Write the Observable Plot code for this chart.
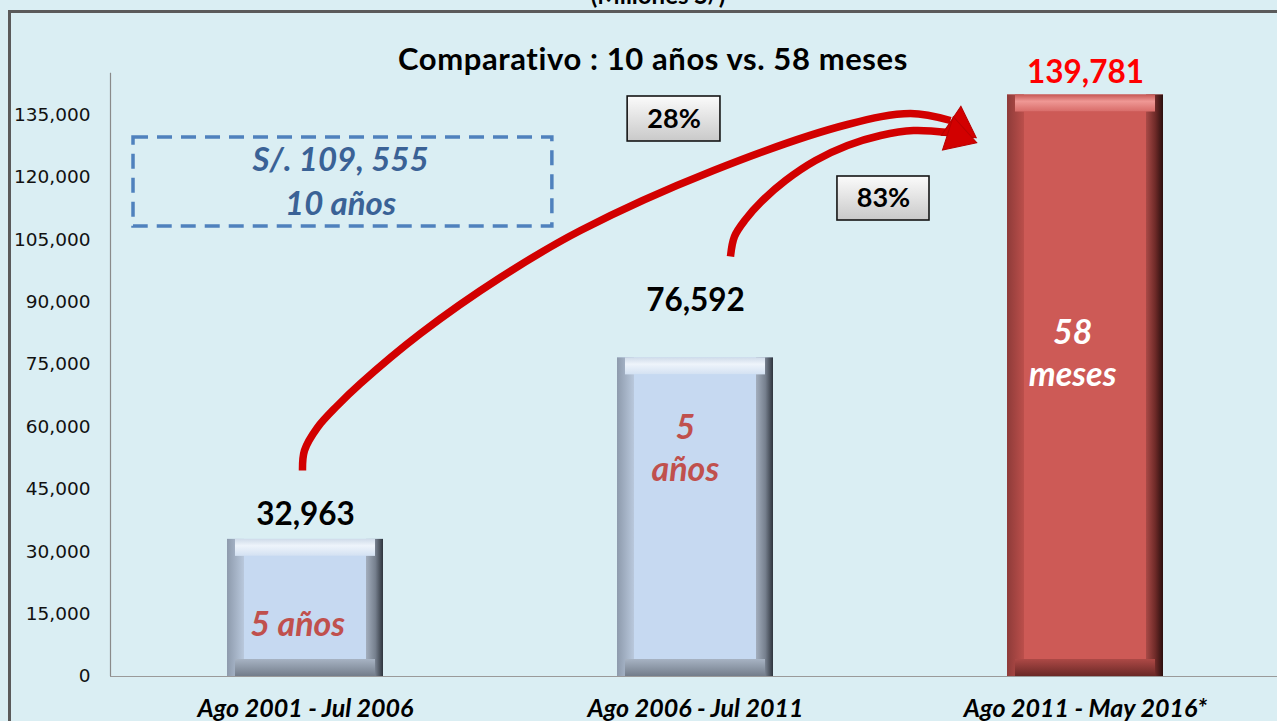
<!DOCTYPE html>
<html><head><meta charset="utf-8">
<script src="https://cdn.jsdelivr.net/npm/d3@7"></script>
<script src="https://cdn.jsdelivr.net/npm/@observablehq/plot@0.6"></script>
<style>
html,body{margin:0;padding:0;background:#daeef3;overflow:hidden;width:1277px;height:721px;}
#wrap{position:relative;width:1277px;height:721px;overflow:hidden;}
#frame{position:absolute;left:8px;top:10px;width:1400px;height:900px;border-left:3px solid #5a5a5a;border-top:3px solid #5a5a5a;}
#unit{position:absolute;left:0;width:1316px;top:-18px;text-align:center;font:bold 24px Lato, sans-serif;color:#000;line-height:26px;}
#title{position:absolute;left:0;width:1306px;top:40px;text-align:center;font:bold 31px Lato, sans-serif;letter-spacing:0.6px;color:#000;line-height:36px;}
#chart{position:absolute;left:0;top:0;}
#chart svg{background:transparent;overflow:visible;}
g[aria-label^="x-axis"] text{font-family:Lato, sans-serif;font-weight:bold;font-style:italic;font-size:25px;fill:#000;}
g[aria-label^="y-axis"] text{font-family:"DejaVu Sans", sans-serif;font-size:18.5px;fill:#111;}
</style>
</head><body>
<div id="wrap">
  <div id="frame"></div>
  <div id="unit">(Millones S/)</div>
  <div id="chart"></div>
  <div id="title">Comparativo : 10 años vs. 58 meses</div>
</div>
<script>
// ---- data ----
const categories = ["Ago 2001 - Jul 2006", "Ago 2006 - Jul 2011", "Ago 2011 - May 2016*"];
const values = [32963, 76592, 139781];
const valueLabels = ["32,963", "76,592", "139,781"];
const innerLabels = ["5 años", "5\naños", "58\nmeses"];
const yTicks = [0, 15000, 30000, 45000, 60000, 75000, 90000, 105000, 120000, 135000];
const totalLabel = ["S/. 109, 555", "10 años"];
const growthLabels = ["28%", "83%"];

// ---- annotation placement (data units: x = category index, y = millones) ----
const valueLabelY = [38900, 90400, 145200];
const innerLabelPos = [{x: -0.02, y: 12980}, {x: 0.974, y: 55300}, {x: 1.967, y: 78100}];
const totalBox = {x1: -0.441, x2: 0.633, y1: 108173, y2: 129567};
const totalTextPos = [{x: 0.09, y: 124038}, {x: 0.09, y: 113462}];
const growthBoxes = [
  {x1: 0.826, x2: 1.064, y1: 128606, y2: 139423},
  {x1: 1.364, x2: 1.600, y1: 109615, y2: 120192}
];
const arrowPath1 = [
  [-0.0077, 49519], [-0.0026, 54327], [0.0308, 59856], [0.0821, 65144], [0.141, 70433],
  [0.2949, 82452], [0.5, 95913], [0.7051, 107212], [1.0462, 121635], [1.3897, 132692],
  [1.5513, 135337], [1.6538, 133654]
];
const arrowPath2 = [
  [1.0897, 100962], [1.1, 105769], [1.1282, 109856], [1.1718, 114423], [1.2308, 119231],
  [1.3077, 124038], [1.3897, 127644], [1.4744, 130048], [1.559, 131250], [1.6487, 130769]
];
const arrowHeads = [
  {x: 1.6769, y: 132212, angle: 124},
  {x: 1.6718, y: 129808, angle: 108}
];

const rows = categories.map((c, i) => ({i, category: c, value: values[i], label: valueLabels[i]}));
const arrowPts = [
  ...arrowPath1.map(([x, y]) => ({id: 1, x, y})),
  ...arrowPath2.map(([x, y]) => ({id: 2, x, y}))
];
const HALF = 0.2, B = 17;

const palettes = {
  blue: {id: "b", base: "#c6d9f1", inner: "#c6d9f1", text: "#c0504d"},
  red: {id: "r", base: "#cd5a56", inner: "#cd5a56", text: "#ffffff"}
};

function bevel(data, p) {
  const x1 = d => d.i - HALF, x2 = d => d.i + HALF;
  return [
    Plot.rect(data, {x1, x2, y1: 0, y2: "value", fill: p.base}),
    Plot.rect(data, {x1, x2: x1, y1: 0, y2: "value", insetRight: -B, fill: `url(#${p.id}L)`}),
    Plot.rect(data, {x1: x2, x2, y1: 0, y2: "value", insetLeft: -B, fill: `url(#${p.id}R)`}),
    Plot.rect(data, {x1, x2, y1: "value", y2: "value", insetBottom: -B, insetLeft: 8, insetRight: 8, fill: `url(#${p.id}T)`}),
    Plot.rect(data, {x1, x2, y1: 0, y2: 0, insetTop: -B, insetLeft: 8, insetRight: 8, fill: `url(#${p.id}B)`}),
    Plot.rect(data, {x1, x2, y1: 0, y2: "value", inset: B, fill: p.inner})
  ];
}

const blueRows = rows.filter(d => d.i < 2), redRows = rows.filter(d => d.i === 2);

const chart = Plot.plot({
  width: 1277,
  height: 721,
  marginLeft: 110,
  marginRight: 0,
  marginTop: 73,
  marginBottom: 45,
  style: {background: "transparent", overflow: "visible"},
  x: {domain: [-0.5, 2.5], range: [110, 1280], ticks: [0, 1, 2], tickFormat: i => categories[i], tickSize: 0, tickPadding: 23, label: null},
  y: {domain: [0, 145000], range: [676, 72.8], ticks: yTicks, tickFormat: d3.format(","), tickSize: 0, tickPadding: 20, label: null},
  marks: [
    Plot.ruleY([0], {x1: -0.5, x2: 2.5, stroke: "#9a9a9a", strokeWidth: 1.2}),
    Plot.ruleX([-0.5], {y1: 0, y2: 145000, stroke: "#8a8a8a", strokeWidth: 1.2}),
    ...bevel(blueRows, palettes.blue),
    ...bevel(redRows, palettes.red),
    // value labels
    Plot.text(rows, {x: "i", y: d => valueLabelY[d.i], text: "label", fontFamily: "Lato", fontWeight: "bold", fontSize: 31.5,
      fill: d => d.i === 2 ? "#ff0000" : "#000000"}),
    // inner labels
    Plot.text(rows, {x: d => innerLabelPos[d.i].x, y: d => innerLabelPos[d.i].y, text: d => innerLabels[d.i], fontFamily: "Lato", fontWeight: "bold", fontStyle: "italic", fontSize: 34, lineHeight: 1.25,
      fill: d => d.i === 2 ? palettes.red.text : palettes.blue.text}),
    // dashed total box
    Plot.rect([totalBox], {x1: "x1", x2: "x2", y1: "y1", y2: "y2", fill: "none", stroke: "#4f81bd", strokeWidth: 3.5, strokeDasharray: "15 9"}),
    Plot.text(totalTextPos, {x: "x", y: "y", text: (d, j) => totalLabel[j], fontFamily: "Lato", fontWeight: "bold", fontStyle: "italic", fontSize: 33, fill: "#3a6296"}),
    // growth arrows
    Plot.line(arrowPts, {x: "x", y: "y", z: "id", curve: "catmull-rom", stroke: "#d20000", strokeWidth: 7.5, strokeLinecap: "butt"}),
    Plot.dot(arrowHeads, {x: "x", y: "y", symbol: "triangle", r: 13, rotate: "angle", fill: "#d20000", stroke: "#b80000", strokeWidth: 1}),
    // growth boxes
    Plot.rect(growthBoxes, {x1: "x1", x2: "x2", y1: "y1", y2: "y2", fill: "url(#pctG)", stroke: "#151515", strokeWidth: 1.6, ariaLabel: "pctbox"}),
    Plot.text(growthBoxes, {x: d => (d.x1 + d.x2) / 2, y: d => (d.y1 + d.y2) / 2, text: (d, j) => growthLabels[j], fontFamily: "Lato", fontWeight: "bold", fontSize: 27, fill: "#000"})
  ]
});

document.getElementById("chart").appendChild(chart);

// gradients for bevels
const svg = d3.select(chart);
const defs = svg.insert("defs", ":first-child");
function grad(id, x2, y2, stops) {
  const g = defs.append("linearGradient").attr("id", id).attr("x1", 0).attr("y1", 0).attr("x2", x2).attr("y2", y2);
  stops.forEach(([o, c]) => g.append("stop").attr("offset", o).attr("stop-color", c));
}
grad("bL", 1, 0, [[0, "#8d9aac"], [1, "#b9c8dc"]]);
grad("bR", 1, 0, [[0, "#a3aebd"], [0.55, "#76808e"], [1, "#2e343d"]]);
grad("bT", 0, 1, [[0, "#cfdbe9"], [0.4, "#eef4fb"], [1, "#d3e1f2"]]);
grad("bB", 0, 1, [[0, "#a7b3c3"], [1, "#737d8b"]]);
grad("rL", 1, 0, [[0, "#8e3b39"], [1, "#bb4f4b"]]);
grad("rR", 1, 0, [[0, "#a94a47"], [0.55, "#6e2a28"], [1, "#2a0f0e"]]);
grad("rT", 0, 1, [[0, "#c65854"], [0.4, "#ef9895"], [1, "#d86c69"]]);
grad("rB", 0, 1, [[0, "#ad4946"], [1, "#6a2826"]]);
grad("pctG", 0, 1, [[0, "#fbfbfb"], [1, "#c9c9c9"]]);
svg.selectAll('g[aria-label="pctbox"]').style("filter", "drop-shadow(2px 3px 2px rgba(0,0,0,0.35))");
</script>
</body></html>
